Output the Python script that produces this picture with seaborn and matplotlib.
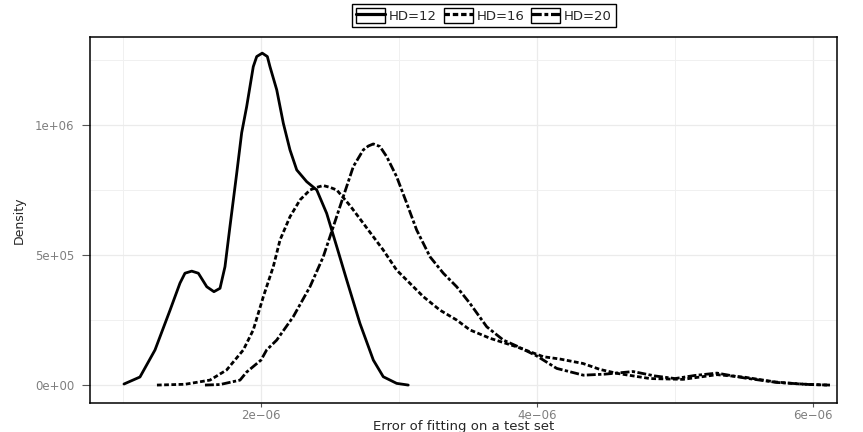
import numpy as np
import pandas as pd
import matplotlib
matplotlib.use("Agg")
import matplotlib.pyplot as plt
import seaborn as sns
from matplotlib import font_manager
from matplotlib.lines import Line2D
from matplotlib.patches import Rectangle
from matplotlib.legend_handler import HandlerLine2D
from matplotlib.ticker import FuncFormatter

# density curves (error, density)
hd12_err = [1.007e-06, 1.123e-06, 1.232e-06, 1.341e-06, 1.413e-06, 1.449e-06, 1.498e-06,
            1.546e-06, 1.607e-06, 1.659e-06, 1.703e-06, 1.739e-06, 1.775e-06, 1.824e-06,
            1.860e-06, 1.896e-06, 1.944e-06, 1.969e-06, 2.009e-06, 2.046e-06, 2.065e-06,
            2.114e-06, 2.162e-06, 2.210e-06, 2.259e-06, 2.331e-06, 2.404e-06, 2.476e-06,
            2.549e-06, 2.621e-06, 2.717e-06, 2.814e-06, 2.886e-06, 2.983e-06, 3.067e-06]
hd12_dens = [4e3, 3.1e4, 1.35e5, 2.88e5, 3.92e5, 4.30e5, 4.38e5,
             4.30e5, 3.78e5, 3.59e5, 3.72e5, 4.55e5, 6.09e5, 8.14e5,
             9.7e5, 1.07e6, 1.224e6, 1.263e6, 1.276e6, 1.263e6, 1.224e6,
             1.135e6, 1.006e6, 9.04e5, 8.27e5, 7.82e5, 7.5e5, 6.6e5,
             5.32e5, 4.04e5, 2.37e5, 9.6e4, 3.2e4, 6.5e3, 0.0]

hd16_err = [1.246e-06, 1.449e-06, 1.630e-06, 1.751e-06, 1.872e-06, 1.944e-06, 2.017e-06,
            2.089e-06, 2.138e-06, 2.210e-06, 2.283e-06, 2.355e-06, 2.404e-06, 2.451e-06,
            2.500e-06, 2.549e-06, 2.645e-06, 2.741e-06, 2.886e-06, 2.983e-06, 3.176e-06,
            3.297e-06, 3.418e-06, 3.514e-06, 3.659e-06, 3.853e-06, 4.046e-06, 4.167e-06,
            4.333e-06, 4.457e-06, 4.580e-06, 4.819e-06, 5.058e-06, 5.304e-06, 5.507e-06,
            5.725e-06, 5.906e-06, 6.101e-06]
hd16_dens = [0.0, 3e3, 1.9e4, 5.8e4, 1.35e5, 2.12e5, 3.4e5,
             4.55e5, 5.58e5, 6.47e5, 7.12e5, 7.5e5, 7.6e5, 7.67e5,
             7.6e5, 7.5e5, 6.9e5, 6.22e5, 5.19e5, 4.42e5, 3.4e5,
             2.88e5, 2.5e5, 2.12e5, 1.8e5, 1.47e5, 1.09e5, 1.0e5,
             8.3e4, 6.0e4, 4.5e4, 2.5e4, 2.2e4, 4.0e4, 3.0e4,
             1.2e4, 4e3, 0.0]

hd20_err = [1.594e-06, 1.703e-06, 1.848e-06, 1.896e-06, 2.000e-06, 2.041e-06, 2.114e-06,
            2.234e-06, 2.355e-06, 2.451e-06, 2.524e-06, 2.596e-06, 2.669e-06, 2.741e-06,
            2.778e-06, 2.814e-06, 2.862e-06, 2.911e-06, 2.983e-06, 3.056e-06, 3.128e-06,
            3.225e-06, 3.321e-06, 3.418e-06, 3.514e-06, 3.636e-06, 3.756e-06, 3.853e-06,
            3.998e-06, 4.143e-06, 4.336e-06, 4.493e-06, 4.696e-06, 4.855e-06, 5.000e-06,
            5.145e-06, 5.304e-06, 5.507e-06, 5.739e-06, 5.978e-06, 6.123e-06]
hd20_dens = [0.0, 2e3, 1.9e4, 5.0e4, 9.6e4, 1.35e5, 1.73e5,
             2.63e5, 3.78e5, 4.93e5, 6.09e5, 7.24e5, 8.4e5, 9.04e5,
             9.19e5, 9.27e5, 9.17e5, 8.78e5, 8.01e5, 6.99e5, 5.96e5,
             4.93e5, 4.3e5, 3.78e5, 3.14e5, 2.24e5, 1.73e5, 1.5e5,
             1.12e5, 6.4e4, 3.8e4, 4.2e4, 5.2e4, 3.5e4, 2.5e4,
             3.7e4, 4.6e4, 2.7e4, 1.0e4, 2e3, 0.0]

labels = ["HD=12", "HD=16", "HD=20"]
x_ticks = [2e-06, 4e-06, 6e-06]
y_ticks = [0, 5e5, 1e6]

df = pd.concat([
    pd.DataFrame({"err": hd12_err, "dens": hd12_dens, "HD": labels[0]}),
    pd.DataFrame({"err": hd16_err, "dens": hd16_dens, "HD": labels[1]}),
    pd.DataFrame({"err": hd20_err, "dens": hd20_dens, "HD": labels[2]}),
])

sns.set_style("white")
plt.rcParams["font.family"] = ["DejaVu Sans"]

names = {f.name for f in font_manager.fontManager.ttflist}
narrow = "Liberation Sans Narrow" if "Liberation Sans Narrow" in names else "DejaVu Sans"

dash_map = {labels[0]: "", labels[1]: (1.7, 0.9), labels[2]: (3.2, 0.85, 1.2, 0.85)}

fig = plt.figure(figsize=(8.63, 4.32), dpi=100)
ax = fig.add_axes([0.1043, 0.0671, 0.8656, 0.8484])

sns.lineplot(data=df, x="err", y="dens", style="HD", dashes=dash_map, color="black",
             linewidth=2.0, sort=False, estimator=None, legend=False, ax=ax)

ax.set_xlim(0.761e-06, 6.174e-06)
ax.set_ylim(-6.9e4, 1.340e6)
ax.set_xticks(x_ticks)
ax.set_xticks([1e-06, 3e-06, 5e-06], minor=True)
ax.set_yticks(y_ticks)
ax.set_yticks([2.5e5, 7.5e5, 1.25e6], minor=True)
ax.xaxis.set_major_formatter(FuncFormatter(lambda v, _: f"{v:.0e}".replace("-", "\u2212")))
ax.yaxis.set_major_formatter(FuncFormatter(lambda v, _: f"{v:.0e}"))

ax.grid(which="major", color="#EBEBEB", linewidth=0.9)
ax.grid(which="minor", color="#F0F0F0", linewidth=0.7)
ax.set_axisbelow(True)
for s in ax.spines.values():
    s.set_visible(True)
    s.set_color("black")
    s.set_linewidth(1.1)

ax.tick_params(axis="x", which="major", length=3, width=0.8, color="#555555",
               labelsize=8.5, labelcolor="#7F7F7F", pad=1, bottom=True)
ax.tick_params(axis="y", which="major", length=5.5, width=0.8, color="#555555",
               labelsize=8.5, labelcolor="#7F7F7F", pad=6, left=True)
ax.tick_params(which="minor", length=0)

ax.set_xlabel("Error of fitting on a test set", fontsize=9.5, labelpad=-1)
ax.set_ylabel("Density", fontsize=9, family=narrow, labelpad=6)


class BoxedKey(HandlerLine2D):
    def create_artists(self, legend, orig_handle, xdescent, ydescent, width, height, fontsize, trans):
        box = Rectangle((-xdescent, -ydescent), width, height, fill=False,
                        edgecolor="black", linewidth=1.0, transform=trans)
        arts = super().create_artists(legend, orig_handle, xdescent, ydescent,
                                      width, height, fontsize, trans)
        return [box] + list(arts)


handles = []
for lab in labels:
    d = dash_map[lab]
    if d == "":
        h = Line2D([], [], color="black", linewidth=2.3, linestyle="-")
    else:
        h = Line2D([], [], color="black", linewidth=2.3, dashes=d)
    handles.append(h)

leg = fig.legend(handles, labels, loc="center", bbox_to_anchor=(0.561, 0.965), ncol=3,
                 fontsize=9.5, frameon=True, fancybox=False, framealpha=1,
                 edgecolor="black", handlelength=2.2, handleheight=1.4,
                 handletextpad=0.3, columnspacing=0.5, borderpad=0.3,
                 borderaxespad=0, handler_map={Line2D: BoxedKey()})
leg.get_frame().set_linewidth(1.0)

fig.savefig("out.png", dpi=100)
